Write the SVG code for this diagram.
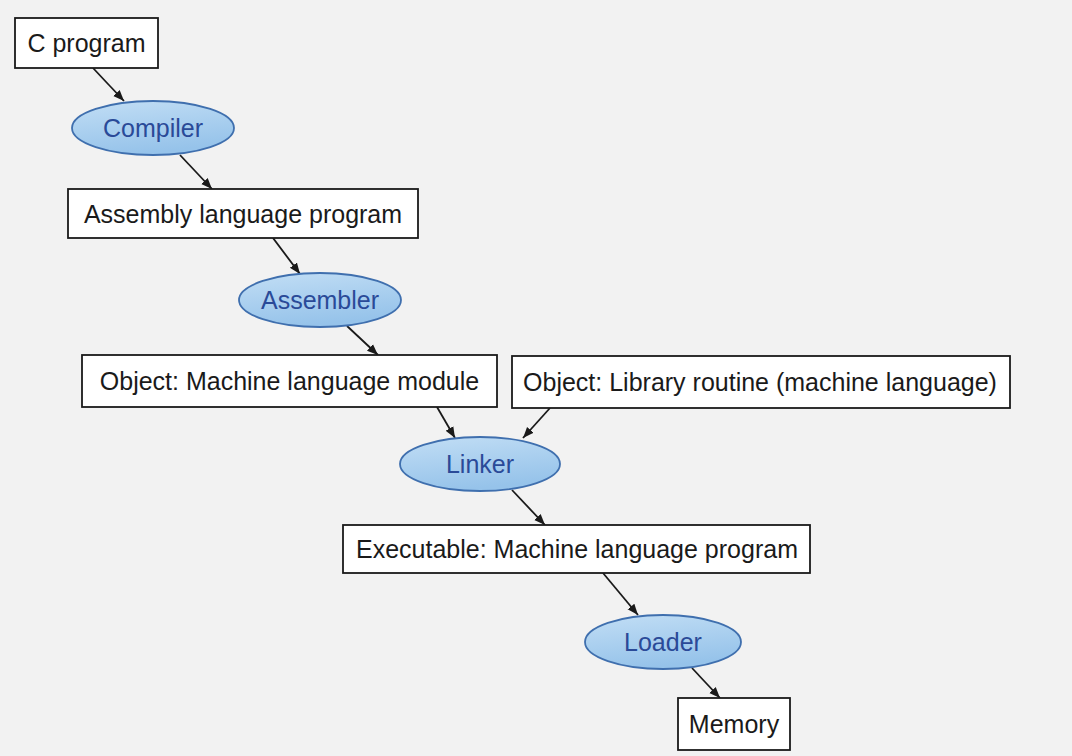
<svg xmlns="http://www.w3.org/2000/svg" width="1072" height="756" viewBox="0 0 1072 756">
<defs>
<marker id="ah" viewBox="0 0 10 10" refX="10" refY="5" markerWidth="11" markerHeight="11" markerUnits="userSpaceOnUse" orient="auto">
<path d="M0,1 L10,5 L0,9 z" fill="#1a1a1a"/>
</marker>
<linearGradient id="eg" x1="0" y1="0" x2="0.3" y2="1">
<stop offset="0" stop-color="#c2def5"/>
<stop offset="1" stop-color="#96c3ea"/>
</linearGradient>
<style>
.box{fill:#ffffff;stroke:#1a1a1a;stroke-width:1.8}
.ell{fill:url(#eg);stroke:#3f6fae;stroke-width:1.8}
.bt{font-family:"Liberation Sans",Arial,sans-serif;font-size:25px;fill:#1a1a1a;text-anchor:middle}
.et{font-family:"Liberation Sans",Arial,sans-serif;font-size:25px;fill:#2a4a98;text-anchor:middle}
.edge{stroke:#1a1a1a;stroke-width:1.8;fill:none;marker-end:url(#ah)}
</style>
</defs>
<rect x="0" y="0" width="1072" height="756" fill="#f2f2f2"/>
<g id="connectors">
<line class="edge" x1="93" y1="68" x2="124" y2="101"/>
<line class="edge" x1="180" y1="155" x2="212" y2="189"/>
<line class="edge" x1="273" y1="238" x2="300" y2="274"/>
<line class="edge" x1="347" y1="326" x2="378" y2="355"/>
<line class="edge" x1="437" y1="407" x2="455" y2="438"/>
<line class="edge" x1="550" y1="408" x2="523" y2="438"/>
<line class="edge" x1="512" y1="490" x2="545" y2="525"/>
<line class="edge" x1="603" y1="573" x2="638" y2="615"/>
<line class="edge" x1="692" y1="668" x2="720" y2="698"/>
</g>
<g id="c-program"><rect class="box" x="15" y="18" width="143" height="50"/><text class="bt" x="86.5" y="51.5">C program</text></g>
<g id="compiler"><ellipse class="ell" cx="153" cy="128" rx="81" ry="27"/><text class="et" x="153" y="137">Compiler</text></g>
<g id="assembly"><rect class="box" x="68" y="189" width="350" height="49"/><text class="bt" x="243" y="222.5">Assembly language program</text></g>
<g id="assembler"><ellipse class="ell" cx="320" cy="300" rx="81" ry="27"/><text class="et" x="320" y="309">Assembler</text></g>
<g id="object-module"><rect class="box" x="82" y="355" width="415" height="52"/><text class="bt" x="289.5" y="389.5">Object: Machine language module</text></g>
<g id="object-library"><rect class="box" x="512" y="356" width="498" height="52"/><text class="bt" x="760" y="390.5">Object: Library routine (machine language)</text></g>
<g id="linker"><ellipse class="ell" cx="480" cy="464" rx="80" ry="27"/><text class="et" x="480" y="473">Linker</text></g>
<g id="executable"><rect class="box" x="343" y="525" width="467" height="48"/><text class="bt" x="577" y="557.5">Executable: Machine language program</text></g>
<g id="loader"><ellipse class="ell" cx="663" cy="642" rx="78" ry="27"/><text class="et" x="663" y="651">Loader</text></g>
<g id="memory"><rect class="box" x="678" y="698" width="112" height="52"/><text class="bt" x="734" y="732.5">Memory</text></g>
</svg>
